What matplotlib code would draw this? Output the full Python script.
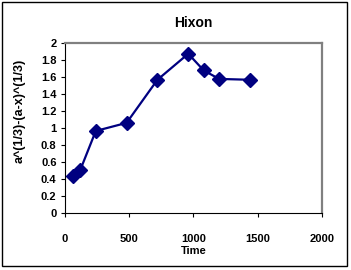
import matplotlib.pyplot as plt
from matplotlib.patches import Rectangle

plt.rcParams['font.family'] = ['Liberation Sans', 'DejaVu Sans']
plt.rcParams['font.weight'] = 'bold'

time_min = [60, 120, 240, 480, 720, 960, 1080, 1200, 1440]
hixon = [0.44, 0.51, 0.965, 1.06, 1.565, 1.87, 1.675, 1.575, 1.565]

x_ticks = [0, 500, 1000, 1500, 2000]
y_ticks = [0, 0.2, 0.4, 0.6, 0.8, 1, 1.2, 1.4, 1.6, 1.8, 2]
y_labels = ['0', '0.2', '0.4', '0.6', '0.8', '1', '1.2', '1.4', '1.6', '1.8', '2']

fig = plt.figure(figsize=(3.51, 2.70), dpi=100)
ax = fig.add_axes([0.185, 0.21, 0.732, 0.632])

ax.plot(time_min, hixon, color='#000080', lw=1.6, marker='D', markersize=7,
        markerfacecolor='#000080', markeredgecolor='#000080')

ax.set_xlim(0, 2000)
ax.set_ylim(0, 2)
ax.set_xticks(x_ticks)
ax.set_yticks(y_ticks)
ax.set_yticklabels(y_labels)
ax.tick_params(direction='out', length=3, width=0.8, labelsize=8, pad=3)
ax.tick_params(axis='x', pad=12)

for s in ['left', 'bottom']:
    ax.spines[s].set_color('black')
    ax.spines[s].set_linewidth(0.8)
for s in ['top', 'right']:
    ax.spines[s].set_color('#808080')
    ax.spines[s].set_linewidth(1.6)

ax.set_title('Hixon', fontsize=10, fontweight='bold', pad=11)
ax.set_xlabel('Time', fontsize=8, fontweight='bold', labelpad=1)
ax.set_ylabel('a^(1/3)-(a-x)^(1/3)', fontsize=9, fontweight='bold', labelpad=11)
ax.yaxis.label.set_y(0.6)

fig.patches.append(Rectangle((2 / 351, 4 / 270), 345 / 351, 264 / 270,
                             transform=fig.transFigure, fill=False,
                             edgecolor='black', lw=1))

fig.savefig('out.png', dpi=100)
